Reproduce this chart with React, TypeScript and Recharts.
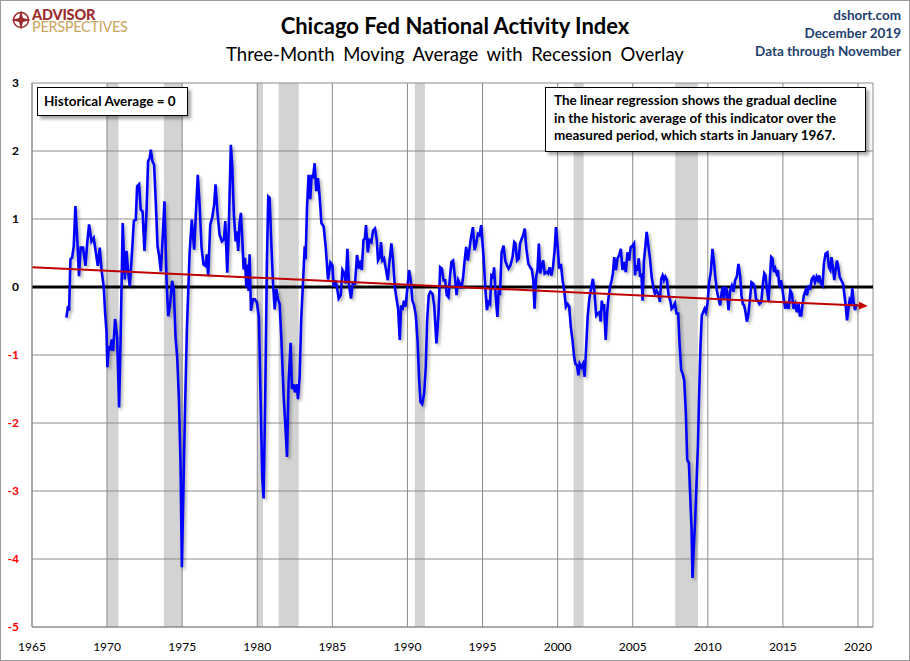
import { LineChart, Line, XAxis, YAxis, CartesianGrid, ReferenceArea, ReferenceLine } from 'recharts'

// CFNAI three-month moving average, [year, value]
const cfnai1960s: [number, number][] = [
  [1967.29, -0.45], [1967.4, -0.28], [1967.47, -0.35], [1967.56, 0.41], [1967.67, 0.43], [1967.78, 0.6],
  [1967.89, 1.19], [1968.02, 0.67], [1968.13, 0.16], [1968.24, 0.58], [1968.4, 0.58], [1968.56, 0.31],
  [1968.67, 0.63], [1968.8, 0.92], [1968.96, 0.67], [1969.11, 0.72], [1969.24, 0.53], [1969.38, 0.31],
  [1969.51, 0.58], [1969.64, 0.23], [1969.78, 0.0], [1969.87, -0.38], [1969.96, -0.65],
]

const cfnai1970s: [number, number][] = [
  [1970.02, -1.18], [1970.11, -0.89], [1970.22, -0.91], [1970.31, -0.77], [1970.4, -0.94], [1970.53, -0.47],
  [1970.67, -0.74], [1970.8, -1.77], [1970.91, -0.65], [1971.04, 0.94], [1971.18, 0.11], [1971.29, 0.53],
  [1971.4, 0.23], [1971.51, 0.01], [1971.64, 0.43], [1971.78, 0.97], [1971.91, 0.99], [1972.0, 1.48],
  [1972.13, 1.51], [1972.24, 1.14], [1972.36, 1.11], [1972.49, 0.53], [1972.62, 1.07], [1972.73, 1.85],
  [1972.84, 1.9], [1972.91, 2.02], [1973.02, 1.85], [1973.13, 1.8], [1973.24, 1.26], [1973.36, 0.6],
  [1973.47, 0.45], [1973.58, 0.23], [1973.69, 0.67], [1973.82, 1.26], [1973.96, 0.09], [1974.07, -0.43],
  [1974.2, -0.25], [1974.33, 0.09], [1974.44, -0.03], [1974.56, -0.74], [1974.67, -1.04], [1974.78, -1.62],
  [1974.89, -2.6], [1974.98, -4.12], [1975.16, -2.1], [1975.31, -0.65], [1975.49, 0.48], [1975.64, 0.99],
  [1975.8, 0.55], [1975.91, 1.07], [1976.04, 1.65], [1976.16, 1.21], [1976.29, 0.58], [1976.42, 0.33],
  [1976.56, 0.31], [1976.64, 0.48], [1976.73, 0.16], [1976.87, 0.92], [1977.0, 1.02], [1977.13, 1.21],
  [1977.22, 1.51], [1977.36, 1.07], [1977.49, 0.77], [1977.64, 0.67], [1977.78, 0.7], [1977.87, 0.97],
  [1978.0, 0.21], [1978.11, 0.92], [1978.24, 2.09], [1978.33, 1.8], [1978.44, 1.07], [1978.56, 0.67],
  [1978.64, 0.82], [1978.73, 0.53], [1978.82, 0.94], [1978.91, 1.09], [1979.0, 0.72], [1979.09, 0.26],
  [1979.18, 0.43], [1979.27, 0.0], [1979.36, 0.33], [1979.42, -0.06], [1979.49, 0.48], [1979.58, -0.35],
  [1979.71, -0.18], [1979.84, -0.18], [1979.98, -0.23],
]

const cfnai1980s: [number, number][] = [
  [1980.11, -0.45], [1980.22, -1.62], [1980.33, -2.8], [1980.42, -3.11], [1980.53, -1.62], [1980.64, 0.33],
  [1980.73, 1.33], [1980.82, 1.31], [1980.93, 0.67], [1981.04, 0.09], [1981.16, -0.33], [1981.27, -0.03],
  [1981.38, -0.18], [1981.49, -0.25], [1981.6, -0.74], [1981.76, -1.62], [1981.89, -2.11], [1981.98, -2.5],
  [1982.09, -1.38], [1982.22, -0.82], [1982.31, -1.5], [1982.42, -1.43], [1982.51, -1.55], [1982.64, -1.43],
  [1982.71, -1.65], [1982.82, -1.33], [1982.93, -0.45], [1983.04, 0.04], [1983.16, 0.6], [1983.22, 0.41],
  [1983.31, 1.16], [1983.42, 1.65], [1983.53, 1.29], [1983.62, 1.65], [1983.71, 1.6], [1983.82, 1.82],
  [1983.93, 1.41], [1984.04, 1.6], [1984.16, 1.31], [1984.27, 0.94], [1984.42, 0.89], [1984.56, 0.58],
  [1984.71, 0.11], [1984.87, 0.36], [1985.0, 0.32], [1985.09, 0.0], [1985.2, 0.1], [1985.31, 0.0],
  [1985.42, -0.17], [1985.56, -0.12], [1985.67, 0.25], [1985.8, 0.2], [1985.89, 0.05], [1986.0, 0.56],
  [1986.11, 0.02], [1986.24, -0.17], [1986.36, 0.05], [1986.51, 0.05], [1986.64, 0.47], [1986.76, 0.27],
  [1986.89, 0.39], [1986.96, 0.25], [1987.07, 0.69], [1987.16, 0.71], [1987.24, 0.91], [1987.36, 0.51],
  [1987.47, 0.69], [1987.6, 0.66], [1987.71, 0.83], [1987.84, 0.86], [1987.96, 0.69], [1988.04, 0.39],
  [1988.16, 0.44], [1988.24, 0.66], [1988.33, 0.39], [1988.44, 0.42], [1988.56, 0.27], [1988.69, 0.1],
  [1988.8, 0.37], [1988.93, 0.64], [1989.04, 0.39], [1989.16, 0.0], [1989.27, -0.17], [1989.38, -0.32],
  [1989.49, -0.78], [1989.58, -0.27], [1989.67, -0.34], [1989.76, -0.2], [1989.87, -0.29], [1989.98, -0.05],
]

const cfnai1990s: [number, number][] = [
  [1990.11, 0.25], [1990.22, 0.1], [1990.33, -0.2], [1990.44, -0.27], [1990.56, -0.42], [1990.67, -0.78],
  [1990.78, -1.37], [1990.87, -1.69], [1990.98, -1.72], [1991.11, -1.57], [1991.22, -1.18], [1991.31, -0.49],
  [1991.42, -0.12], [1991.53, -0.07], [1991.67, -0.1], [1991.78, -0.27], [1991.93, -0.83], [1992.07, -0.39],
  [1992.18, 0.29], [1992.29, 0.27], [1992.4, 0.1], [1992.51, 0.1], [1992.62, -0.12], [1992.73, -0.15],
  [1992.84, 0.17], [1992.93, 0.37], [1993.04, 0.39], [1993.16, 0.15], [1993.27, -0.12], [1993.38, 0.1],
  [1993.49, 0.05], [1993.6, -0.02], [1993.71, 0.15], [1993.8, 0.37], [1993.91, 0.59], [1994.02, 0.39],
  [1994.13, 0.56], [1994.24, 0.74], [1994.36, 0.88], [1994.47, 0.54], [1994.58, 0.64], [1994.69, 0.78],
  [1994.8, 0.76], [1994.91, 0.91], [1995.07, 0.44], [1995.18, 0.0], [1995.29, -0.34], [1995.39, -0.22],
  [1995.5, -0.25], [1995.59, 0.17], [1995.7, 0.15], [1995.77, 0.29], [1995.88, -0.15], [1995.99, -0.44],
  [1996.07, -0.05], [1996.16, -0.12], [1996.27, 0.51], [1996.4, 0.61], [1996.51, 0.39], [1996.62, 0.32],
  [1996.73, 0.27], [1996.86, 0.32], [1997.0, 0.44], [1997.11, 0.66], [1997.19, 0.64], [1997.3, 0.39],
  [1997.41, 0.42], [1997.5, 0.64], [1997.61, 0.71], [1997.7, 0.76], [1997.81, 0.86], [1997.92, 0.56],
  [1998.05, 0.34], [1998.18, 0.29], [1998.29, 0.25], [1998.38, 0.1], [1998.46, -0.32], [1998.57, 0.15],
  [1998.66, 0.25], [1998.75, 0.64], [1998.84, 0.2], [1998.95, 0.32], [1999.04, 0.39], [1999.14, 0.2],
  [1999.25, 0.22], [1999.36, 0.2], [1999.47, 0.29], [1999.58, 0.17], [1999.69, 0.29], [1999.8, 0.54],
  [1999.89, 0.88],
]

const cfnai2000s: [number, number][] = [
  [2000.0, 0.59], [2000.11, 0.27], [2000.22, 0.34], [2000.33, 0.1], [2000.44, -0.05], [2000.55, -0.29],
  [2000.66, -0.25], [2000.77, -0.29], [2000.88, -0.59], [2000.99, -0.78], [2001.1, -1.03], [2001.18, -1.13],
  [2001.29, -1.15], [2001.38, -1.3], [2001.47, -1.13], [2001.58, -1.18], [2001.69, -1.13], [2001.8, -1.32],
  [2001.89, -0.93], [2002.0, -0.44], [2002.11, -0.17], [2002.24, 0.0], [2002.35, 0.12], [2002.46, -0.1],
  [2002.57, -0.42], [2002.68, -0.39], [2002.79, -0.37], [2002.87, -0.51], [2002.94, -0.2], [2003.03, -0.34],
  [2003.09, -0.25], [2003.2, -0.78], [2003.29, -0.39], [2003.38, -0.17], [2003.49, 0.0], [2003.6, 0.1],
  [2003.68, 0.2], [2003.77, 0.44], [2003.88, 0.25], [2003.99, 0.42], [2004.1, 0.47], [2004.21, 0.56],
  [2004.32, 0.25], [2004.43, 0.37], [2004.54, 0.22], [2004.65, 0.51], [2004.76, 0.39], [2004.87, 0.59],
  [2005.0, 0.61], [2005.09, 0.64], [2005.15, 0.17], [2005.24, 0.32], [2005.31, 0.24], [2005.4, 0.42],
  [2005.49, 0.15], [2005.58, 0.2], [2005.66, -0.2], [2005.75, 0.39], [2005.84, 0.59], [2005.93, 0.81],
  [2006.04, 0.61], [2006.15, 0.42], [2006.26, 0.15], [2006.37, 0.0], [2006.48, -0.1], [2006.59, -0.05],
  [2006.7, -0.1], [2006.81, -0.22], [2006.9, 0.12], [2006.99, 0.17], [2007.08, 0.1], [2007.17, 0.15],
  [2007.28, 0.1], [2007.39, -0.12], [2007.5, -0.2], [2007.59, -0.32], [2007.7, -0.29], [2007.81, -0.24],
  [2007.92, -0.39], [2008.03, -0.39], [2008.12, -0.83], [2008.23, -1.22], [2008.32, -1.27], [2008.43, -1.37],
  [2008.54, -1.86], [2008.63, -2.54], [2008.74, -2.59], [2008.83, -3.08], [2008.92, -3.57], [2008.98, -4.28],
  [2009.07, -3.81], [2009.16, -3.42], [2009.25, -2.88], [2009.34, -2.35], [2009.42, -1.61], [2009.51, -0.88],
  [2009.6, -0.42], [2009.69, -0.37], [2009.78, -0.32], [2009.87, -0.37], [2009.98, -0.24],
]

const cfnai2010s: [number, number][] = [
  [2010.09, 0.07], [2010.2, 0.22], [2010.31, 0.56], [2010.4, 0.39], [2010.49, 0.17], [2010.6, -0.05],
  [2010.71, -0.17], [2010.82, -0.27], [2010.93, -0.07], [2011.0, 0.0], [2011.09, -0.17], [2011.18, 0.0],
  [2011.27, -0.05], [2011.38, -0.34], [2011.49, -0.05], [2011.6, 0.02], [2011.71, -0.07], [2011.82, 0.1],
  [2011.93, 0.15], [2012.04, 0.34], [2012.16, 0.15], [2012.24, -0.12], [2012.33, -0.25], [2012.42, -0.27],
  [2012.51, -0.37], [2012.6, -0.51], [2012.71, -0.39], [2012.82, -0.15], [2012.91, 0.07], [2013.02, 0.05],
  [2013.13, 0.0], [2013.22, -0.2], [2013.33, -0.2], [2013.44, -0.25], [2013.56, -0.22], [2013.67, 0.05],
  [2013.76, 0.2], [2013.84, 0.17], [2013.93, -0.02], [2014.04, -0.22], [2014.13, 0.1], [2014.22, 0.44],
  [2014.31, 0.42], [2014.4, 0.22], [2014.49, 0.27], [2014.58, 0.2], [2014.67, 0.25], [2014.76, 0.0],
  [2014.87, 0.1], [2014.96, -0.02], [2015.07, -0.2], [2015.16, -0.32], [2015.27, -0.22], [2015.38, -0.32],
  [2015.49, -0.05], [2015.6, -0.1], [2015.71, -0.32], [2015.82, -0.25], [2015.93, -0.37], [2016.04, -0.25],
  [2016.13, -0.42], [2016.22, -0.42], [2016.31, -0.25], [2016.4, -0.12], [2016.51, -0.05], [2016.6, -0.12],
  [2016.71, 0.0], [2016.82, -0.02], [2016.93, 0.12], [2017.04, 0.15], [2017.13, 0.07], [2017.24, 0.15],
  [2017.33, 0.1], [2017.42, 0.17], [2017.53, 0.05], [2017.64, 0.02], [2017.73, 0.34], [2017.84, 0.49],
  [2017.96, 0.51], [2018.07, 0.29], [2018.16, 0.25], [2018.24, 0.44], [2018.33, 0.29], [2018.42, 0.1],
  [2018.51, 0.25], [2018.6, 0.39], [2018.69, 0.29], [2018.78, 0.15], [2018.89, 0.1], [2019.0, 0.05],
  [2019.09, -0.1], [2019.18, -0.27], [2019.27, -0.49], [2019.36, -0.32], [2019.44, -0.2], [2019.53, -0.25],
  [2019.62, -0.02], [2019.71, -0.22], [2019.8, -0.34], [2019.89, -0.25],
]

// recession overlay (start, end) in years
const recessions: [number, number][] = [
  [1969.97, 1970.76], [1973.78, 1975.0], [1980.0, 1980.38], [1981.42, 1982.76],
  [1990.49, 1991.16], [2001.07, 2001.73], [2007.83, 2009.34],
]

// linear regression end points
const trendStart = { x: 1965, y: 0.29 }
const trendEnd = { x: 2020.66, y: -0.28 }

const yearTicks = [1965, 1970, 1975, 1980, 1985, 1990, 1995, 2000, 2005, 2010, 2015, 2020]
const valueTicks = [-5, -4, -3, -2, -1, 0, 1, 2, 3]

const data = [...cfnai1960s, ...cfnai1970s, ...cfnai1980s, ...cfnai1990s, ...cfnai2000s, ...cfnai2010s].map(
  ([year, value]) => ({ year, value })
)

const FONT = 'Lato, "Open Sans", sans-serif'
const NAVY = '#1f3f6e'

function YearTick({ x, y, payload }: any) {
  return (
    <text x={x} y={y + 22} textAnchor="middle" fontSize={12} fontFamily={FONT} fill="#000">
      {payload.value}
    </text>
  )
}

function ValueTick({ x, y, payload }: any) {
  return (
    <text x={x} y={y + 4} textAnchor="end" fontSize={12} fontWeight="bold" fontFamily={FONT}
      fill={payload.value < 0 ? '#ff0000' : '#000'}>
      {payload.value}
    </text>
  )
}

function ArrowLine({ x1, y1, x2, y2 }: any) {
  const a = Math.atan2(y2 - y1, x2 - x1)
  const len = 9
  const half = 4
  const bx = x2 - len * Math.cos(a)
  const by = y2 - len * Math.sin(a)
  const pts = [
    `${x2},${y2}`,
    `${bx - half * Math.sin(a)},${by + half * Math.cos(a)}`,
    `${bx + half * Math.sin(a)},${by - half * Math.cos(a)}`,
  ].join(' ')
  return (
    <g>
      <line x1={x1} y1={y1} x2={bx} y2={by} stroke="#c00000" strokeWidth={2} />
      <polygon points={pts} fill="#c00000" />
    </g>
  )
}

const boxStyle: React.CSSProperties = {
  position: 'absolute',
  background: '#fff',
  border: '1px solid #000',
  boxShadow: '3px 3px 3px rgba(0,0,0,0.35)',
  fontFamily: FONT,
  fontWeight: 'bold',
  fontSize: 13.5,
  color: '#000',
  boxSizing: 'border-box',
  whiteSpace: 'nowrap',
}

export default function App() {
  return (
    <div style={{ position: 'absolute', left: 0, top: 0, width: 910, height: 661, background: '#fff', fontFamily: FONT }}>
      <style>{`.cfnai-line path { filter: drop-shadow(2px 2px 1.5px rgba(0,0,0,0.3)); }`}</style>
      <LineChart width={910} height={661} data={data} margin={{ top: 83, right: 37, bottom: 0, left: 0 }}>
        <XAxis type="number" dataKey="year" domain={[1965, 2021]} ticks={yearTicks} height={34}
          tickLine={false} tickSize={0} tick={<YearTick />} axisLine={{ stroke: '#8c8c8c' }} allowDataOverflow />
        <YAxis type="number" domain={[-5, 3]} ticks={valueTicks} width={32} tickLine={false} tickSize={0}
          tickMargin={13} tick={<ValueTick />} axisLine={{ stroke: '#8c8c8c' }} allowDataOverflow />
        {recessions.map(([a, b]) => (
          <ReferenceArea key={a} x1={a} x2={b} y1={-5} y2={3} fill="#d3d3d3" fillOpacity={1}
            stroke="none" zIndex={-200} />
        ))}
        <CartesianGrid stroke="#8c8c8c" strokeWidth={1} zIndex={-100} />
        <ReferenceLine y={0} stroke="#000" strokeWidth={3} zIndex={350} />
        <Line className="cfnai-line" type="linear" dataKey="value" stroke="#0000ff" strokeWidth={2.6}
          dot={false} activeDot={false} isAnimationActive={false} zIndex={400} />
        <ReferenceLine segment={[trendStart, trendEnd]} shape={<ArrowLine />} zIndex={450} />
      </LineChart>

      {/* logo */}
      <svg style={{ position: 'absolute', left: 11, top: 10 }} width={20} height={20} viewBox="0 0 20 20">
        <circle cx={10} cy={10} r={7.5} fill="none" stroke="#9b2d2d" strokeWidth={1.6} />
        <polygon points="10,0 12,8 20,10 12,12 10,20 8,12 0,10 8,8" fill="#9b2d2d" />
      </svg>
      <div style={{ position: 'absolute', left: 32, top: 9, fontSize: 14.5, fontWeight: 900, color: '#9b2d2d', letterSpacing: -0.2, lineHeight: '12px' }}>
        ADVISOR
      </div>
      <div style={{ position: 'absolute', left: 32, top: 21, fontSize: 14.5, color: '#c9a45c', letterSpacing: -0.3, lineHeight: '12px' }}>
        PERSPECTIVES
      </div>

      {/* titles */}
      <div style={{ position: 'absolute', left: 0, width: 910, top: 13, textAlign: 'center', fontSize: 22, fontWeight: 'bold', color: '#000', lineHeight: '26px' }}>
        Chicago Fed National Activity Index
      </div>
      <div style={{ position: 'absolute', left: 0, width: 910, top: 42, textAlign: 'center', fontSize: 18.5, color: '#000', wordSpacing: 4, lineHeight: '24px' }}>
        Three-Month Moving Average with Recession Overlay
      </div>
      <div style={{ position: 'absolute', right: 9, top: 6, textAlign: 'right', fontSize: 13.5, fontWeight: 'bold', color: NAVY, lineHeight: '18px' }}>
        <div>dshort.com</div>
        <div>December 2019</div>
        <div>Data through November</div>
      </div>

      {/* annotation boxes */}
      <div style={{ ...boxStyle, left: 37, top: 87, width: 151, height: 29, paddingLeft: 6, lineHeight: '27px' }}>
        Historical Average = 0
      </div>
      <div style={{ ...boxStyle, left: 545, top: 87, width: 321, height: 65, padding: '4px 0 0 8px', lineHeight: '17.5px' }}>
        <div>The linear regression shows the gradual decline</div>
        <div>in the historic average of this indicator over the</div>
        <div>measured period, which starts in January 1967.</div>
      </div>

      {/* outer frame */}
      <div style={{ position: 'absolute', left: 0, top: 0, width: 910, height: 661, boxSizing: 'border-box', border: '1px solid #9a9a9a', pointerEvents: 'none' }} />
    </div>
  )
}
